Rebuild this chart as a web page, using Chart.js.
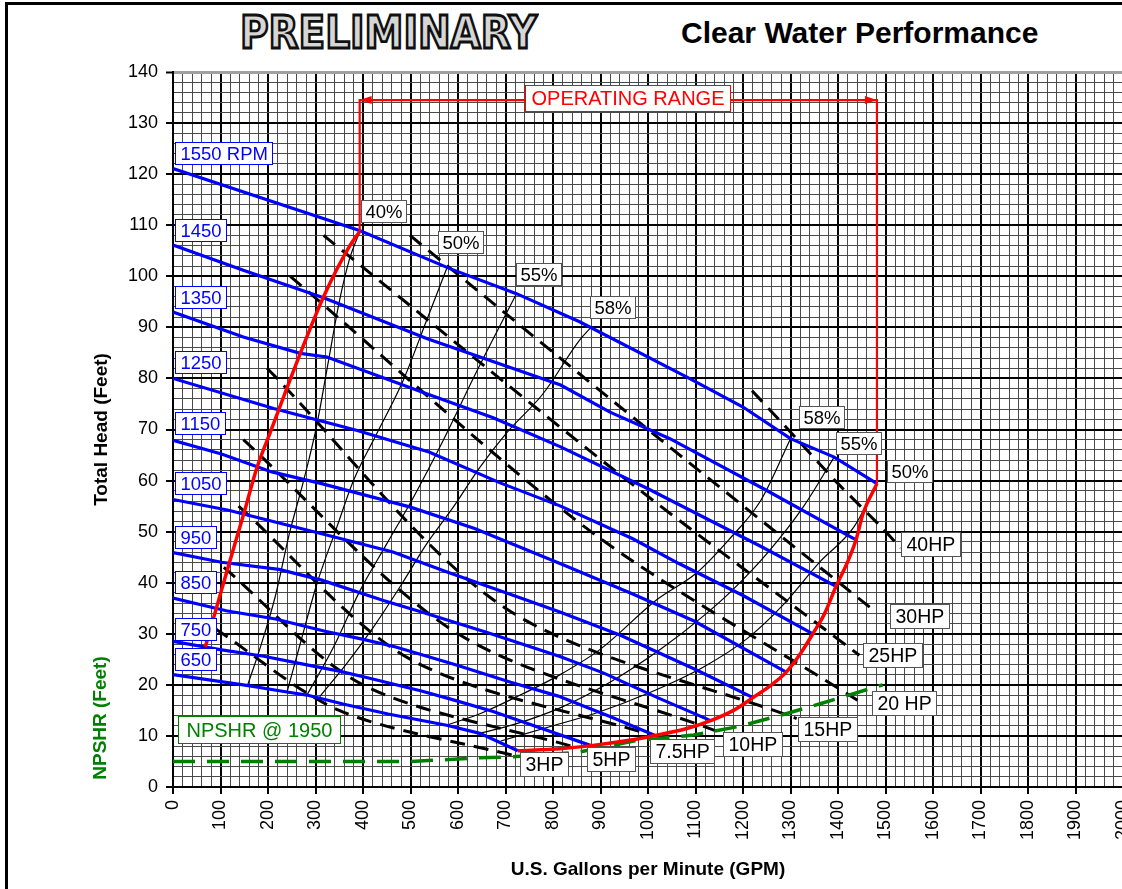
<!DOCTYPE html>
<html>
<head>
<meta charset="utf-8">
<title>Clear Water Performance</title>
<script src="https://cdn.jsdelivr.net/npm/chart.js@4.4.0/dist/chart.umd.min.js"></script>
<style>
  html, body { margin: 0; padding: 0; background: #fff; overflow: hidden; }
  body { width: 1122px; height: 889px; position: relative; font-family: 'Liberation Sans', Arial, sans-serif; }
  .frame { position: absolute; left: 5px; top: 2px; width: 1300px; height: 1000px;
           border-top: 3px solid #000; border-left: 3px solid #000; }
  .wrap { position: absolute; left: 0; top: 0; width: 1123px; height: 889px; }
  .prelim { position: absolute; left: 240px; top: 10px; font: bold 39px 'DejaVu Sans', sans-serif;
            color: #d6d6d6; -webkit-text-stroke: 2.5px #111; transform: scaleY(1.15); transform-origin: left top;
            white-space: nowrap; line-height: 39px; }
  .subtitle { position: absolute; left: 681px; top: 18px; font: bold 30px 'Liberation Sans', Arial, sans-serif;
              line-height: 30px; white-space: nowrap; }
</style>
</head>
<body>
<div class="frame"></div>
<div class="prelim">PRELIMINARY</div>
<div class="subtitle">Clear Water Performance</div>
<div class="wrap"><canvas id="chart" width="1123" height="889"></canvas></div>

<script>
// ---- pump curves (GPM / feet) ----
const gpm1550 = [0, 394, 583, 723, 856, 1081, 1200, 1300, 1392, 1482];
const head1550 = [121.1, 108.9, 101.5, 96.6, 91.1, 80.3, 74.4, 68.2, 64.6, 59.4];
const gpm1450 = [0, 148, 317, 534, 816, 920, 1046, 1249, 1438];
const head1450 = [106.1, 101.2, 95.8, 87.8, 78.7, 73.4, 68.2, 58.1, 48.4];
const gpm1350 = [0, 148, 268, 324, 534, 674, 816, 1000, 1238, 1396];
const head1350 = [93, 88.1, 84.9, 84.2, 77, 72.3, 66.6, 58.4, 47.1, 39.3];
const gpm1250 = [0, 212, 388, 539, 690, 816, 968, 1064, 1200, 1347];
const head1250 = [80, 74.1, 69.8, 65.6, 59.5, 55, 48.6, 43.8, 37.5, 30];
const gpm1150 = [0, 102, 208, 313, 500, 635, 816, 963, 1097, 1291];
const head1150 = [67.9, 65.2, 61.7, 59.4, 54.8, 50.6, 43.7, 38, 32.5, 22.5];
const gpm1050 = [0, 117, 313, 463, 580, 732, 816, 942, 1100, 1221];
const head1050 = [56.3, 54.2, 49.6, 46, 42, 37, 34.2, 29.7, 23, 17.5];
const gpm950 = [0, 102, 223, 313, 443, 525, 663, 816, 907, 1020, 1132];
const head950 = [45.9, 44.0, 42.6, 40.5, 36.5, 34.2, 30.2, 25.5, 22.3, 17.5, 13];
const gpm850 = [0, 112, 216, 320, 396, 469, 593, 711, 811, 920, 1015];
const head850 = [37, 34.5, 32.9, 30.5, 29, 27.4, 24, 20.5, 17.8, 13.8, 10.1];
const gpm750 = [0, 99, 191, 282, 350, 414, 523, 581, 674, 760, 880];
const head750 = [28.5, 26.9, 25.6, 23.9, 22.7, 21.3, 18.8, 17.3, 14.8, 12, 8.1];
const gpm650 = [0, 155, 240, 282, 360, 453, 576, 646, 726];
const head650 = [22, 19.9, 18.6, 18, 16.2, 14.3, 12.1, 10.5, 7.1];

// ---- operating range ----
const rangeLeftGpm = [68, 86, 114, 149, 177, 205, 268, 317, 373, 393];
const rangeLeftHead = [27.4, 33.3, 42.4, 53.5, 62.6, 69.5, 84.9, 96, 106.1, 108.7];
const rangeRightGpm = [726, 815, 880, 950, 1015, 1080, 1132, 1180, 1221, 1260, 1291, 1320, 1347, 1372, 1396, 1419, 1438, 1453, 1482];
const rangeRightHead = [7.1, 7.5, 8.1, 9, 10.1, 11.4, 13, 15, 17.5, 20, 22.5, 26, 30, 34, 39.3, 43.8, 48.4, 53.6, 59.4];
const rangeTopGpm = [393, 393, 1482, 1482];
const rangeTopHead = [108.7, 134.5, 134.5, 59.4];

// ---- NPSHR ----
const npshrGpm = [0, 500, 566, 641, 716, 853, 970, 1096, 1194, 1285, 1366, 1494];
const npshrHead = [5, 5, 5.3, 5.7, 5.9, 6.8, 9.0, 10.2, 11.9, 14.2, 16.4, 20];

// ---- efficiency curves ----
const eff40Gpm = [157, 184, 215, 245, 275, 302, 328, 350, 372, 393];
const eff40Head = [19.9, 27.4, 37.2, 49.6, 60, 70.5, 83.8, 95, 103.5, 108.7];
const eff50Gpm = [240, 268, 303, 345, 380, 428, 485, 534, 579];
const eff50Head = [18.6, 28.1, 39.8, 50.9, 60, 69, 79.7, 91.4, 102.2];
const eff55Gpm = [282, 338, 394, 450, 506, 569, 640, 723];
const eff55Head = [18, 27.4, 38.5, 47.6, 56.7, 67.9, 81.5, 96.6];
const eff58Gpm = [309, 366, 422, 478, 534, 590, 646, 702, 779, 856, 881];
const eff58Head = [17.7, 24.2, 31.3, 39.2, 47.6, 54.8, 62.6, 69.3, 77, 87.5, 90.1];
const eff58bGpm = [576, 650, 720, 815, 900, 1019, 1102, 1170, 1238, 1300];
const eff58bHead = [12.1, 14.5, 17.5, 22, 27, 36.7, 41.9, 48.4, 56.2, 68.2];
const eff55bGpm = [646, 720, 815, 920, 1027, 1117, 1177, 1253, 1328, 1392];
const eff55bHead = [10.5, 12.3, 15.5, 20.5, 27, 33.5, 38.5, 46, 55, 64.6];
const eff50bGpm = [690, 800, 891, 1004, 1117, 1208, 1283, 1359, 1434, 1482];
const eff50bHead = [9, 12, 14.5, 18.5, 23.5, 29, 35.5, 43.8, 51, 59.4];

// ---- horsepower lines ----
const hp40Gpm = [1219, 1313, 1396, 1490, 1532];
const hp40Head = [77.6, 68.2, 59.8, 51, 46.8];
const hp30Gpm = [499, 1000, 1475];
const hp30Head = [108, 70, 34.6];
const hp25Gpm = [317, 950, 1445];
const hp25Head = [108, 60.5, 25.8];
const hp20Gpm = [247, 880, 1441];
const hp20Head = [100, 50, 17];
const hp15Gpm = [198, 700, 1313];
const hp15Head = [82, 35, 13.4];
const hp10Gpm = [148, 600, 1140];
const hp10Head = [68, 30, 11.1];
const hp75Gpm = [138, 500, 1011];
const hp75Head = [55, 25, 10.1];
const hp5Gpm = [107, 400, 846];
const hp5Head = [43, 20, 7.8];
const hp3Gpm = [89, 350, 716];
const hp3Head = [31, 15, 6.2];

// ---- label texts ----
const rpmNames = ['1550 RPM', '1450', '1350', '1250', '1150', '1050', '950', '850', '750', '650'];
const effNames = ['40%', '50%', '55%', '58%', '58%', '55%', '50%'];
const hpNames = ['40HP', '30HP', '25HP', '20 HP', '15HP', '10HP', '7.5HP', '5HP', '3HP'];

// label anchors (left edge gpm, centre head)
const rpmAnchors = [[4.8, 124.2], [4.8, 109.0], [4.8, 95.9], [4.8, 83.3], [4.8, 71.2],
                    [4.8, 59.6], [4.8, 48.9], [4.8, 40.1], [4.8, 31.0], [4.8, 25.0]];
const effAnchors = [[396, 112.7], [557, 106.8], [722, 100.4], [877, 94.0], [1317, 72.4], [1395, 67.3], [1503, 61.9]];
const hpAnchors = [[1533, 47.6], [1509, 33.4], [1453, 25.9], [1472, 16.4], [1315, 11.4], [1157, 8.5], [1004, 7.1], [872, 5.55], [731, 4.6]];

const FONT = "'Liberation Sans', Arial, sans-serif";
Chart.defaults.font.family = FONT;
Chart.defaults.color = '#000';

function pts(xs, ys) {
  return xs.map((x, i) => ({ x: x, y: ys[i] }));
}

function line(xs, ys, color, width, extra) {
  return Object.assign({
    data: pts(xs, ys),
    borderColor: color,
    borderWidth: width,
    pointRadius: 0,
    showLine: true,
    fill: false,
    tension: 0
  }, extra || {});
}

const BLUE = '#0000ff';
const RED = '#ff0000';
const GREEN = '#008000';

const datasets = [];
// efficiency (thin black)
[[eff40Gpm, eff40Head], [eff50Gpm, eff50Head], [eff55Gpm, eff55Head], [eff58Gpm, eff58Head],
 [eff58bGpm, eff58bHead], [eff55bGpm, eff55bHead], [eff50bGpm, eff50bHead]].forEach(c => {
  datasets.push(line(c[0], c[1], '#000', 1.2, { cubicInterpolationMode: 'monotone', order: 6 }));
});
// horsepower (dashed black)
[[hp40Gpm, hp40Head], [hp30Gpm, hp30Head], [hp25Gpm, hp25Head], [hp20Gpm, hp20Head], [hp15Gpm, hp15Head],
 [hp10Gpm, hp10Head], [hp75Gpm, hp75Head], [hp5Gpm, hp5Head], [hp3Gpm, hp3Head]].forEach(c => {
  datasets.push(line(c[0], c[1], '#000', 3, { borderDash: [15, 9], tension: 0.3, order: 5 }));
});
// RPM curves
[[gpm1550, head1550], [gpm1450, head1450], [gpm1350, head1350], [gpm1250, head1250], [gpm1150, head1150],
 [gpm1050, head1050], [gpm950, head950], [gpm850, head850], [gpm750, head750], [gpm650, head650]].forEach(c => {
  datasets.push(line(c[0], c[1], BLUE, 3.2, { order: 4 }));
});
// NPSHR
datasets.push(line(npshrGpm, npshrHead, GREEN, 3.5, { borderDash: [22, 12], order: 3 }));
// operating range
datasets.push(line(rangeLeftGpm, rangeLeftHead, RED, 3.5, { cubicInterpolationMode: 'monotone', order: 2 }));
datasets.push(line(rangeRightGpm, rangeRightHead, RED, 3.5, { cubicInterpolationMode: 'monotone', order: 2 }));
datasets.push(line(rangeTopGpm, rangeTopHead, RED, 2.2, { order: 2 }));

function isMul(v, m) {
  const r = Math.abs(v % m);
  return r < 1e-6 || Math.abs(r - m) < 1e-6;
}

function drawBox(ctx, text, px, py, o) {
  ctx.font = o.font;
  const w = Math.round(ctx.measureText(text).width + o.pad * 2);
  const h = o.h;
  const left = Math.round(o.center ? px - w / 2 : px) + 0.5;
  const top = Math.round(py - h / 2) + 0.5;
  ctx.fillStyle = '#fff';
  ctx.fillRect(left, top, w, h);
  ctx.strokeStyle = o.border;
  ctx.lineWidth = 1;
  ctx.strokeRect(left, top, w, h);
  ctx.fillStyle = o.color;
  ctx.textBaseline = 'middle';
  ctx.textAlign = 'left';
  ctx.fillText(text, left + o.pad, top + h / 2 + 1);
}

const labelsPlugin = {
  id: 'labelsPlugin',
  afterDatasetsDraw(chart) {
    const { ctx, scales: { x, y } } = chart;
    ctx.save();

    // arrow heads on the operating range bracket
    const ay = y.getPixelForValue(rangeTopHead[1]);
    const axl = x.getPixelForValue(rangeTopGpm[1]);
    const axr = x.getPixelForValue(rangeTopGpm[2]);
    ctx.fillStyle = RED;
    ctx.beginPath();
    ctx.moveTo(axl, ay); ctx.lineTo(axl + 12, ay - 4); ctx.lineTo(axl + 12, ay + 4); ctx.closePath(); ctx.fill();
    ctx.beginPath();
    ctx.moveTo(axr, ay); ctx.lineTo(axr - 12, ay - 4); ctx.lineTo(axr - 12, ay + 4); ctx.closePath(); ctx.fill();

    // OPERATING RANGE
    drawBox(ctx, 'OPERATING RANGE', x.getPixelForValue(956), y.getPixelForValue(134.9),
      { font: '20px ' + FONT, pad: 6, h: 26, color: RED, border: RED, center: true });

    rpmNames.forEach((t, i) => {
      drawBox(ctx, t, x.getPixelForValue(rpmAnchors[i][0]), y.getPixelForValue(rpmAnchors[i][1]),
        { font: '18.5px ' + FONT, pad: 5, h: 22, color: BLUE, border: BLUE });
    });
    effNames.forEach((t, i) => {
      drawBox(ctx, t, x.getPixelForValue(effAnchors[i][0]), y.getPixelForValue(effAnchors[i][1]),
        { font: '18.5px ' + FONT, pad: 4, h: 22, color: '#000', border: '#555' });
    });
    hpNames.forEach((t, i) => {
      drawBox(ctx, t, x.getPixelForValue(hpAnchors[i][0]), y.getPixelForValue(hpAnchors[i][1]),
        { font: '19.5px ' + FONT, pad: 5, h: 24, color: '#000', border: '#555' });
    });
    drawBox(ctx, 'NPSHR @ 1950', x.getPixelForValue(9.7), y.getPixelForValue(11.35),
      { font: '20px ' + FONT, pad: 8, h: 27, color: GREEN, border: GREEN });

    // second y title
    ctx.translate(101, 718);
    ctx.rotate(-Math.PI / 2);
    ctx.font = 'bold 19px ' + FONT;
    ctx.fillStyle = GREEN;
    ctx.textAlign = 'center';
    ctx.textBaseline = 'middle';
    ctx.fillText('NPSHR (Feet)', 0, 0);
    ctx.restore();
  }
};

new Chart(document.getElementById('chart'), {
  type: 'scatter',
  data: { datasets: datasets },
  plugins: [labelsPlugin],
  options: {
    responsive: false,
    animation: false,
    layout: { padding: { left: 0, right: 0, top: 72, bottom: 0 } },
    plugins: { legend: { display: false }, tooltip: { enabled: false } },
    scales: {
      x: {
        type: 'linear',
        min: 0, max: 2000,
        afterFit(s) { s.height = 102; s.paddingLeft = 0; s.paddingRight = 0; },
        ticks: {
          stepSize: 20, autoSkip: false, maxTicksLimit: 1000,
          minRotation: 90, maxRotation: 90, padding: 6,
          font: { size: 18 },
          callback: v => isMul(v, 100) ? String(v) : ''
        },
        grid: {
          color: c => isMul(c.tick.value, 100) ? '#000' : '#4a4a4a',
          lineWidth: c => isMul(c.tick.value, 100) ? 2 : 1,
          tickColor: c => isMul(c.tick.value, 100) ? '#000' : 'rgba(0,0,0,0)',
          tickLength: 7, tickWidth: 2
        },
        border: { color: '#000', width: 2 },
        title: { display: true, text: 'U.S. Gallons per Minute (GPM)', font: { size: 19, weight: 'bold' },
                 padding: { top: 0, bottom: 8 } }
      },
      y: {
        type: 'linear',
        min: 0, max: 140,
        afterFit(s) { s.width = 173; },
        ticks: {
          stepSize: 2, autoSkip: false, maxTicksLimit: 1000, padding: 8,
          font: { size: 18 },
          callback: v => isMul(v, 10) ? String(v) : ''
        },
        grid: {
          color: c => c.tick.value === 140 ? '#a0a0a0' : (isMul(c.tick.value, 10) ? '#000' : '#4a4a4a'),
          lineWidth: c => c.tick.value === 140 ? 3 : (isMul(c.tick.value, 10) ? 2 : 1),
          tickColor: c => isMul(c.tick.value, 10) ? '#000' : 'rgba(0,0,0,0)',
          tickLength: 7, tickWidth: 2
        },
        border: { color: '#000', width: 2 },
        title: { display: true, text: 'Total Head (Feet)', font: { size: 19, weight: 'bold' },
                 padding: { top: 90, bottom: 0 } }
      }
    }
  }
});
</script>
</body>
</html>
